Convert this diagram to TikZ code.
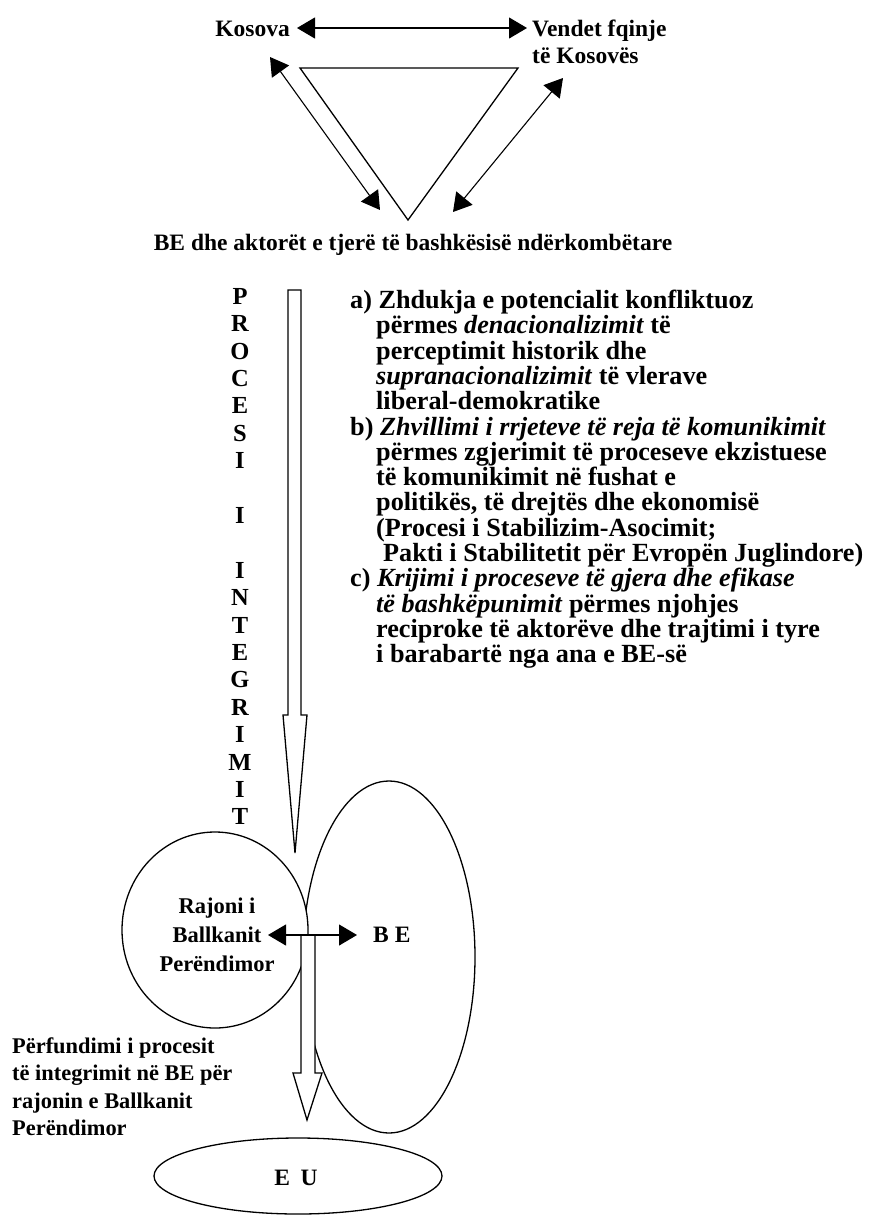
\documentclass[tikz,border=0pt]{standalone}
\usepackage{fontspec}
\setmainfont{Liberation Serif}
\usetikzlibrary{arrows.meta}
\begin{document}
\begin{tikzpicture}[x=1pt,y=-1pt,
  every node/.style={inner sep=0pt},
  lst/.style={anchor=base west, font=\fontsize{26.2}{25.3}\selectfont\bfseries},
  vl/.style={anchor=base, font=\fontsize{24.5}{27}\selectfont\bfseries},
  lbl/.style={font=\fontsize{23.5}{27}\selectfont\bfseries},
  sml/.style={anchor=base west, font=\fontsize{22.4}{27}\selectfont\bfseries},
  dbl/.style={line width=1.1pt, {Triangle[length=18pt,width=21pt]}-{Triangle[length=18pt,width=21pt]}},
  outl/.style={draw, line width=1.3pt, fill=white},
]
\useasboundingbox (0,0) rectangle (876,1216);
\fill[white] (0,0) rectangle (876,1216);

% top labels
\node[lbl, anchor=base east] (kos) at (290,36) {Kosova};
\node[lbl, anchor=base west] (ven1) at (532,36) {Vendet fqinje};
\node[lbl, anchor=base west] (ven2) at (532,63) {të Kosovës};
\node[lbl, anchor=base] (ea) at (413,250) {BE dhe aktorët e tjerë të bashkësisë ndërkombëtare};

% triangle
\draw[line width=1.3pt] (300,68) -- (518,68) -- (408,220) -- cycle;

% top arrows
\coordinate (kA) at (297,28);
\coordinate (vA) at (527,28);
\coordinate (kB) at (270,57);
\coordinate (eB) at (380,210);
\coordinate (vC) at (563,78);
\coordinate (eC) at (453,212);
\draw[dbl] (kA) -- (vA);
\draw[dbl] (kB) -- (eB);
\draw[dbl] (vC) -- (eC);

% vertical letters
\foreach \l [count=\k from 0] in {P,R,O,C,E,S,I,{},I,{},I,N,T,E,G,R,I,M,I,T}{
  \node[vl] (v\k) at (240,{304.3+27.4*\k}) {\l};
}

% hollow arrow 1
\draw[outl] (288,290) -- (301,290) -- (301,715) -- (307,715) -- (295,853) -- (283,715) -- (288,715) -- cycle;

% list
\node[lst] (a1) at (350,{308.5+25.3*0}) {a) Zhdukja e potencialit konfliktuoz};
\node[lst] (a2) at (376,{308.5+25.3*1}) {përmes \textit{denacionalizimit} të};
\node[lst] (a3) at (376,{308.5+25.3*2}) {perceptimit historik dhe};
\node[lst] (a4) at (376,{308.5+25.3*3}) {\textit{supranacionalizimit} të vlerave};
\node[lst] (a5) at (376,{308.5+25.3*4}) {liberal-demokratike};
\node[lst] (b1) at (350,{308.5+25.3*5}) {b) \textit{Zhvillimi i rrjeteve të reja të komunikimit}};
\node[lst] (b2) at (376,{308.5+25.3*6}) {përmes zgjerimit të proceseve ekzistuese};
\node[lst] (b3) at (376,{308.5+25.3*7}) {të komunikimit në fushat e};
\node[lst] (b4) at (376,{308.5+25.3*8}) {politikës, të drejtës dhe ekonomisë};
\node[lst] (b5) at (376,{308.5+25.3*9}) {(Procesi i Stabilizim-Asocimit;};
\node[lst] (b6) at (383,{308.5+25.3*10}) {Pakti i Stabilitetit për Evropën Juglindore)};
\node[lst] (c1) at (350,{308.5+25.3*11}) {c) \textit{Krijimi i proceseve të gjera dhe efikase}};
\node[lst] (c2) at (376,{308.5+25.3*12}) {\textit{të bashkëpunimit} përmes njohjes};
\node[lst] (c3) at (376,{308.5+25.3*13}) {reciproke të aktorëve dhe trajtimi i tyre};
\node[lst] (c4) at (376,{308.5+25.3*14}) {i barabartë nga ana e BE-së};

% BE ellipse, circle
\draw[outl] (389,957) ellipse [x radius=86, y radius=176];
\draw[outl] (215,930) ellipse [x radius=93, y radius=98];
\node[align=center, font=\fontsize{22.5}{29}\selectfont\bfseries] (raj) at (217,935) {Rajoni i\\Ballkanit\\Perëndimor};

% hollow arrow 2
\draw[outl] (301,935) -- (315,935) -- (315,1073) -- (322,1073) -- (307,1120) -- (293,1073) -- (301,1073) -- cycle;

% middle double arrow
\coordinate (mL) at (268,935);
\coordinate (mR) at (357,935);
\draw[dbl] (mL) -- (mR);
\node[lbl, anchor=west] (be) at (373,935) {B E};

% lower-left text
\node[sml] (p1) at (12,1053) {Përfundimi i procesit};
\node[sml] (p2) at (12,1080.5) {të integrimit në BE për};
\node[sml] (p3) at (12,1108) {rajonin e Ballkanit};
\node[sml] (p4) at (12,1135.5) {Perëndimor};

% EU ellipse
\draw[outl] (298,1176) ellipse [x radius=144, y radius=38];
\node[lbl] (eu) at (296,1178) {E\hspace{0.45em}U};
\end{tikzpicture}
\end{document}
